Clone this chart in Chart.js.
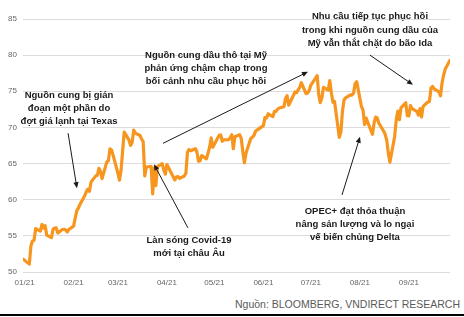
<!DOCTYPE html>
<html>
<head>
<meta charset="utf-8">
<script src="https://cdn.jsdelivr.net/npm/chart.js@4.4.0/dist/chart.umd.min.js"></script>
<style>
  html, body { margin: 0; padding: 0; background: #fff; }
  #wrap { position: relative; width: 464px; height: 317px; overflow: hidden; }
  #oilChart { display: block; }
  #source { position: absolute; right: 4px; top: 298px; font: 10.5px "Liberation Sans", Arial, sans-serif; color: #595959; white-space: nowrap; }
  #rule { position: absolute; left: 0; right: 0; top: 314px; height: 2px; background: #000; }
</style>
</head>
<body>
<div id="wrap">
  <canvas id="oilChart" width="464" height="295"></canvas>
  <div id="source">Nguồn: BLOOMBERG, VNDIRECT RESEARCH</div>
  <div id="rule"></div>
</div>
<script>
// trading days and Brent close (USD/barrel)
var tradeDates = [
  "2020-12-31",
  "2021-01-04","2021-01-05","2021-01-06","2021-01-07","2021-01-08","2021-01-11","2021-01-12","2021-01-13","2021-01-14","2021-01-15",
  "2021-01-18","2021-01-19","2021-01-20","2021-01-21","2021-01-22","2021-01-25","2021-01-26","2021-01-27","2021-01-28","2021-01-29",
  "2021-02-01","2021-02-02","2021-02-03","2021-02-04","2021-02-05","2021-02-08","2021-02-09","2021-02-10","2021-02-11","2021-02-12",
  "2021-02-15","2021-02-16","2021-02-17","2021-02-18","2021-02-19","2021-02-22","2021-02-23","2021-02-24","2021-02-25","2021-02-26",
  "2021-03-01","2021-03-02","2021-03-03","2021-03-04","2021-03-05","2021-03-08","2021-03-09","2021-03-10","2021-03-11","2021-03-12",
  "2021-03-15","2021-03-16","2021-03-17","2021-03-18","2021-03-19","2021-03-22","2021-03-23","2021-03-24","2021-03-25","2021-03-26",
  "2021-03-29","2021-03-30","2021-03-31",
  "2021-04-01","2021-04-06","2021-04-07","2021-04-08","2021-04-09","2021-04-12","2021-04-13","2021-04-14","2021-04-15","2021-04-16",
  "2021-04-19","2021-04-20","2021-04-21","2021-04-22","2021-04-23","2021-04-26","2021-04-27","2021-04-28","2021-04-29","2021-04-30",
  "2021-05-04","2021-05-05","2021-05-06","2021-05-07","2021-05-10","2021-05-11","2021-05-12","2021-05-13","2021-05-14",
  "2021-05-17","2021-05-18","2021-05-19","2021-05-20","2021-05-21","2021-05-24","2021-05-25","2021-05-26","2021-05-27","2021-05-28",
  "2021-06-01","2021-06-02","2021-06-03","2021-06-04","2021-06-07","2021-06-08","2021-06-09","2021-06-10","2021-06-11",
  "2021-06-14","2021-06-15","2021-06-16","2021-06-17","2021-06-18","2021-06-21","2021-06-22","2021-06-23","2021-06-24","2021-06-25",
  "2021-06-28","2021-06-29","2021-06-30",
  "2021-07-01","2021-07-02","2021-07-05","2021-07-06","2021-07-07","2021-07-08","2021-07-09","2021-07-12","2021-07-13","2021-07-14",
  "2021-07-15","2021-07-16","2021-07-19","2021-07-20","2021-07-21","2021-07-22","2021-07-23","2021-07-26","2021-07-27","2021-07-28",
  "2021-07-29","2021-07-30",
  "2021-08-02","2021-08-03","2021-08-04","2021-08-05","2021-08-06","2021-08-09","2021-08-10","2021-08-11","2021-08-12","2021-08-13",
  "2021-08-16","2021-08-17","2021-08-18","2021-08-19","2021-08-20","2021-08-23","2021-08-24","2021-08-25","2021-08-26","2021-08-27",
  "2021-08-30","2021-08-31",
  "2021-09-01","2021-09-02","2021-09-03","2021-09-06","2021-09-07","2021-09-08","2021-09-09","2021-09-10","2021-09-13","2021-09-14",
  "2021-09-15","2021-09-16","2021-09-17","2021-09-20","2021-09-21","2021-09-22","2021-09-23","2021-09-24","2021-09-27"
];
var brentClose = [
  51.8,
  51.09,53.6,54.3,54.38,55.99,55.66,56.58,56.06,56.42,55.1,
  54.75,55.9,56.08,56.1,55.41,55.88,55.91,55.81,55.53,55.88,
  56.35,57.46,58.46,58.84,59.34,60.56,61.09,61.47,61.14,62.43,
  63.3,63.35,64.34,63.93,62.91,65.24,65.37,67.04,66.88,66.13,
  63.69,62.7,64.07,66.74,69.36,68.24,67.52,67.9,69.63,69.22,
  68.88,68.39,68.0,63.28,64.53,64.62,60.79,64.41,61.95,64.57,
  64.98,64.14,63.54,
  64.86,62.74,63.16,63.2,62.95,63.28,63.67,66.58,66.94,66.77,
  67.05,66.57,65.32,65.4,66.11,65.65,66.42,67.27,68.56,67.25,
  68.9,68.96,68.09,68.28,68.32,68.55,69.0,67.05,68.71,
  69.0,68.46,66.66,65.11,66.44,68.46,68.65,68.87,69.46,69.63,
  70.25,71.35,71.31,71.89,71.49,72.22,72.22,72.52,72.69,
  72.86,73.99,74.39,73.08,73.51,74.9,74.81,75.19,75.56,76.18,
  74.68,74.76,75.13,
  75.84,76.17,77.16,74.53,73.43,74.12,75.55,75.16,76.49,74.76,
  73.47,73.59,68.62,69.35,72.23,73.79,74.1,74.5,74.48,74.74,
  76.05,76.33,
  72.89,72.41,70.38,71.29,70.7,69.04,70.63,71.44,71.31,70.59,
  69.51,69.03,68.23,66.45,65.18,68.75,71.05,72.25,71.07,72.7,
  73.41,71.63,
  71.59,73.03,72.61,72.22,71.69,72.6,71.45,72.92,73.51,73.6,
  75.46,75.67,75.34,74.92,74.36,76.19,77.25,78.09,79.3
];
var monthLabels = ["01/21","02/21","03/21","04/21","05/21","06/21","07/21","08/21","09/21"];
var yTicks = [50, 55, 60, 65, 70, 75, 80, 85];

// days counted from 1 Jan 2021
function dayIndex(s) {
  return (Date.parse(s) - Date.parse("2021-01-01")) / 86400000;
}
var monthStarts = monthLabels.map(function (m) {
  return dayIndex("20" + m.slice(3) + "-" + m.slice(0, 2) + "-01");
});

// annotation boxes: text anchor / arrow in data units (day, price)
var notes = [
  { lines: ["Nguồn cung bị gián", "đoạn một phần do", "đợt giá lạnh tại Texas"], at: [28.1, 74.5], from: [27.5, 69.2], to: [33.1, 61.6] },
  { lines: ["Nguồn cung dầu thô tại Mỹ", "phản ứng chậm chạp trong", "bối cảnh nhu cầu phục hồi"], at: [114.7, 80.0], from: [87.5, 67.8], to: [179.2, 77.7] },
  { lines: ["Nhu cầu tiếp tục phục hồi", "trong khi nguồn cung dầu của", "Mỹ vẫn thắt chặt do bão Ida"], at: [218.4, 85.3], from: [218.4, 80.0], to: [245.6, 75.9] },
  { lines: ["OPEC+ đạt thỏa thuận", "nâng sản lượng và lo ngại", "vế biến chủng Delta"], at: [208.9, 58.4], from: [200.7, 60.65], to: [212.1, 68.7] },
  { lines: ["Làn sóng Covid-19", "mới tại châu Âu"], at: [104.0, 54.4], from: [103.3, 56.1], to: [81.8, 64.9] }
];

function drawArrow(ctx, x1, y1, x2, y2) {
  var ang = Math.atan2(y2 - y1, x2 - x1);
  var len = 6, half = 2.6;
  ctx.beginPath();
  ctx.moveTo(x1, y1);
  ctx.lineTo(x2 - Math.cos(ang) * len * 0.8, y2 - Math.sin(ang) * len * 0.8);
  ctx.stroke();
  ctx.beginPath();
  ctx.moveTo(x2, y2);
  ctx.lineTo(x2 - Math.cos(ang) * len - Math.sin(ang) * half, y2 - Math.sin(ang) * len + Math.cos(ang) * half);
  ctx.lineTo(x2 - Math.cos(ang) * len + Math.sin(ang) * half, y2 - Math.sin(ang) * len - Math.cos(ang) * half);
  ctx.closePath();
  ctx.fill();
}

var notePlugin = {
  id: "notes",
  afterDraw: function (chart) {
    var ctx = chart.ctx, xs = chart.scales.x, ys = chart.scales.y;
    ctx.save();
    ctx.font = 'bold 9.5px "Liberation Sans", Arial, sans-serif';
    ctx.fillStyle = "#1a1a1a";
    ctx.strokeStyle = "#1a1a1a";
    ctx.lineWidth = 1;
    ctx.textAlign = "center";
    ctx.textBaseline = "middle";
    notes.forEach(function (n) {
      var tx = xs.getPixelForValue(n.at[0]), ty = ys.getPixelForValue(n.at[1]);
      n.lines.forEach(function (t, i) { ctx.fillText(t, tx, ty + i * 13.2); });
      drawArrow(ctx,
        xs.getPixelForValue(n.from[0]), ys.getPixelForValue(n.from[1]),
        xs.getPixelForValue(n.to[0]), ys.getPixelForValue(n.to[1]));
    });
    ctx.restore();
  }
};

var points = tradeDates.map(function (d, i) {
  return { x: dayIndex(d), y: brentClose[i] };
});

new Chart(document.getElementById("oilChart"), {
  type: "line",
  data: {
    datasets: [{
      data: points,
      borderColor: "#F7961F",
      borderWidth: 3.2,
      pointRadius: 0,
      tension: 0,
      borderJoinStyle: "round",
      borderCapStyle: "round"
    }]
  },
  options: {
    responsive: false,
    animation: false,
    layout: { padding: { left: 0, top: 19, right: 14, bottom: 0 } },
    plugins: { legend: { display: false }, tooltip: { enabled: false } },
    scales: {
      x: {
        type: "linear",
        min: dayIndex(tradeDates[0]),
        max: dayIndex(tradeDates[tradeDates.length - 1]),
        grid: { display: false, drawTicks: false },
        border: { display: false },
        afterBuildTicks: function (axis) {
          axis.ticks = monthStarts.map(function (v) { return { value: v }; });
        },
        afterFit: function (axis) { axis.height = 23; },
        ticks: {
          autoSkip: false,
          maxRotation: 0,
          padding: 6,
          color: "#666666",
          font: { family: "'Liberation Sans', Arial, sans-serif", size: 8 },
          callback: function (v) { return monthLabels[monthStarts.indexOf(v)]; }
        }
      },
      y: {
        min: yTicks[0],
        max: yTicks[yTicks.length - 1],
        grid: { color: "#dcdcdc", lineWidth: 1, drawTicks: false },
        border: { display: false },
        afterBuildTicks: function (axis) {
          axis.ticks = yTicks.map(function (v) { return { value: v }; });
        },
        afterFit: function (axis) { axis.width = 23; },
        ticks: {
          autoSkip: false,
          padding: 6,
          color: "#666666",
          font: { family: "'Liberation Sans', Arial, sans-serif", size: 8 },
          callback: function (v) { return String(v); }
        }
      }
    }
  },
  plugins: [notePlugin]
});
</script>
</body>
</html>
